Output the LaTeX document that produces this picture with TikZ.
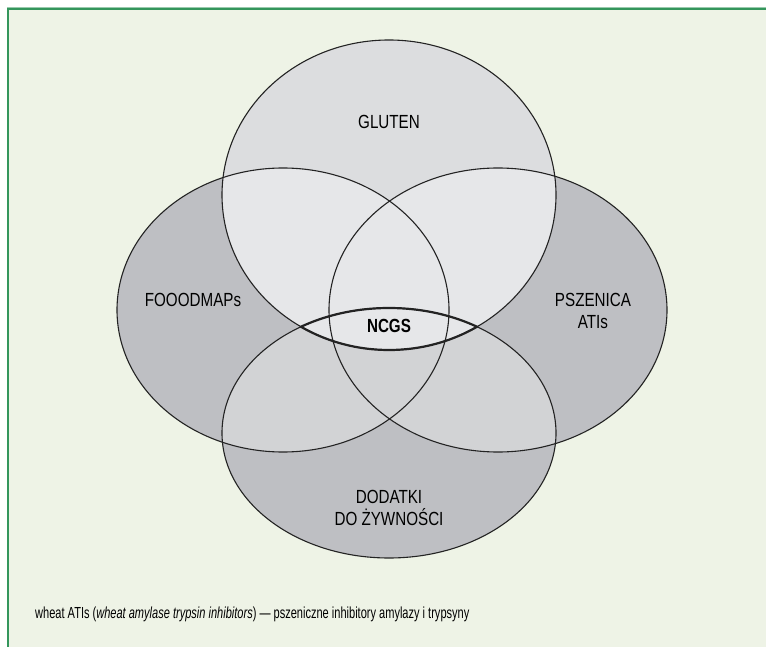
\documentclass[tikz,border=0pt]{standalone}
\usepackage{fontspec}
\setmainfont{Liberation Sans}[FakeStretch=0.8]
\newfontfamily\footfont{Liberation Sans}[FakeStretch=0.69]
\definecolor{bgcol}{RGB}{238,243,230}
\definecolor{framecol}{RGB}{52,150,92}
\definecolor{topgray}{RGB}{220,221,223}
\definecolor{darkgray}{RGB}{190,191,195}
\definecolor{lightgray}{RGB}{230,231,233}
\definecolor{midgray}{RGB}{210,211,213}
\definecolor{linecol}{RGB}{35,35,35}
\begin{document}
\begin{tikzpicture}[x=1pt,y=-1pt,
  outline/.style={draw=linecol,line width=1.1pt},
  lens/.style={draw=linecol,line width=2.2pt},
  lbl/.style={font=\fontsize{19}{22}\selectfont,text=black,align=center,inner sep=0pt}]
\useasboundingbox (0,0) rectangle (766,647);
\fill[white] (0,0) rectangle (766,647);
\fill[bgcol] (8,9) rectangle (766,647);
\draw[framecol,line width=2pt] (8,647) -- (8,9) -- (766,9);
\draw[framecol!50,line width=0.8pt] (7,7.5) -- (766,7.5);
% ellipse paths
\def\ETop{(389,195) ellipse [x radius=167, y radius=155]}
\def\ELeft{(283,310) ellipse [x radius=166, y radius=142]}
\def\ERight{(498,310) ellipse [x radius=169, y radius=142]}
\def\EBot{(389,433) ellipse [x radius=167, y radius=125]}
% base fills
\fill[darkgray] \ELeft;
\fill[darkgray] \ERight;
\fill[darkgray] \EBot;
\fill[topgray] \ETop;
% bottom with left/right
\begin{scope}
\clip \EBot;
\fill[midgray] \ELeft;
\fill[midgray] \ERight;
\end{scope}
% top with left/right/bottom
\begin{scope}
\clip \ETop;
\fill[lightgray] \ELeft;
\fill[lightgray] \ERight;
\fill[lightgray] \EBot;
\end{scope}
% outlines
\draw[outline] \ETop;
\draw[outline] \ELeft;
\draw[outline] \ERight;
\draw[outline] \EBot;
% lens
\begin{scope}
\clip \ETop;
\draw[lens] \EBot;
\end{scope}
\begin{scope}
\clip \EBot;
\draw[lens] \ETop;
\end{scope}
% labels
\node[lbl] (gluten) at (389,122) {GLUTEN};
\node[lbl] (fodmap) at (193,300) {FOOODMAPs};
\node[lbl] (pszen) at (593,311) {PSZENICA\\ATIs};
\node[lbl,font=\fontsize{19}{22}\selectfont\bfseries] (ncgs) at (389,326) {NCGS};
\node[lbl] (dodatki) at (389,508) {DODATKI\\DO ŻYWNOŚCI};
\node[lbl,anchor=west,font=\footfont\fontsize{16}{19}\selectfont] (foot) at (35,614) {wheat ATIs (\textit{wheat amylase trypsin inhibitors}) — pszeniczne inhibitory amylazy i trypsyny};
\end{tikzpicture}
\end{document}
